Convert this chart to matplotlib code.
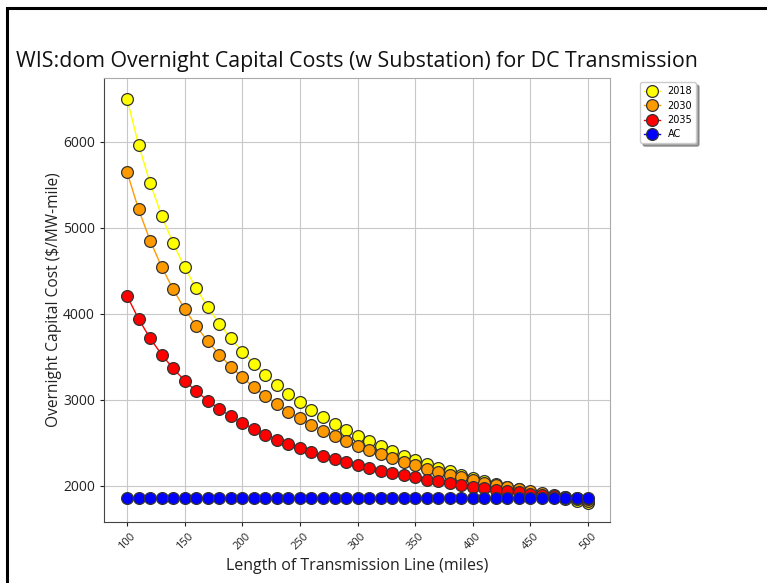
import matplotlib.pyplot as plt
from matplotlib.patches import Rectangle

# Line length (miles)
miles = list(range(100, 501, 10))

# Overnight capital cost ($/MW-mile)
cost_2018 = [6500, 5966, 5521, 5144, 4821, 4542, 4297, 4081, 3889, 3717,
             3563, 3423, 3295, 3179, 3073, 2975, 2885, 2801, 2723, 2651,
             2583, 2520, 2461, 2405, 2353, 2304, 2257, 2213, 2171, 2131,
             2094, 2058, 2024, 1991, 1960, 1931, 1902, 1875, 1849, 1824, 1800]
cost_2030 = [5650, 5216, 4854, 4548, 4286, 4058, 3859, 3684, 3528, 3388,
             3263, 3149, 3045, 2951, 2865, 2785, 2712, 2644, 2580, 2522,
             2467, 2415, 2367, 2322, 2279, 2239, 2201, 2166, 2132, 2099,
             2069, 2040, 2012, 1985, 1960, 1936, 1913, 1891, 1870, 1849, 1830]
cost_2035 = [4210, 3942, 3718, 3528, 3366, 3225, 3102, 2993, 2896, 2810,
             2732, 2662, 2598, 2539, 2486, 2437, 2391, 2349, 2310, 2273,
             2239, 2208, 2178, 2150, 2123, 2099, 2075, 2053, 2032, 2012,
             1993, 1975, 1958, 1942, 1926, 1911, 1897, 1883, 1870, 1857, 1845]
cost_ac = [1860] * len(miles)

series = [('2018', cost_2018, '#ffff00'),
          ('2030', cost_2030, '#ff9900'),
          ('2035', cost_2035, '#ff0000'),
          ('AC', cost_ac, '#0000ff')]

plt.rcParams['font.family'] = ['Open Sans', 'DejaVu Sans']

fig = plt.figure(figsize=(7.67, 5.83), dpi=100)
ax = fig.add_axes([104 / 767, 1 - 522 / 583, 506 / 767, 444 / 583])

for name, vals, col in series:
    ax.plot(miles, vals, color=col, lw=1, marker='o', markersize=8.5,
            markerfacecolor=col, markeredgecolor='#333333', markeredgewidth=0.9,
            label=name)

ax.set_xlim(80, 519)
ax.set_ylim(1581, 6744)
ax.set_xticks(range(100, 501, 50))
ax.set_yticks([2000, 3000, 4000, 5000, 6000])
ax.tick_params(axis='x', labelsize=8, labelrotation=45, colors='#222222', length=3)
ax.tick_params(axis='y', labelsize=10, colors='#222222', length=3)
ax.grid(True, color='#c8c8c8', lw=0.8)
ax.set_axisbelow(True)
for s in ['top', 'right']:
    ax.spines[s].set_color('#aaaaaa')
for s in ['left', 'bottom']:
    ax.spines[s].set_color('#444444')

ax.set_xlabel('Length of Transmission Line (miles)', fontsize=11.5, color='#222222')
ax.set_ylabel('Overnight Capital Cost ($/MW-mile)', fontsize=11.2, color='#222222',
              labelpad=1)
ax.set_title('WIS:dom Overnight Capital Costs (w Substation) for DC Transmission',
             fontsize=15.4, color='#111111', pad=8)

leg = ax.legend(loc='upper left', bbox_to_anchor=(1.06, 0.99), shadow=True,
                prop={'family': 'DejaVu Sans', 'size': 7}, borderaxespad=0,
                handlelength=1.6, labelspacing=0.45)

# black frame around the figure
fig.patches.append(Rectangle((7 / 767, -0.1), 1.2, 1 - 8 / 583 + 0.1,
                             transform=fig.transFigure, fill=False,
                             edgecolor='black', lw=2.2))

fig.savefig('out.png', dpi=100)
